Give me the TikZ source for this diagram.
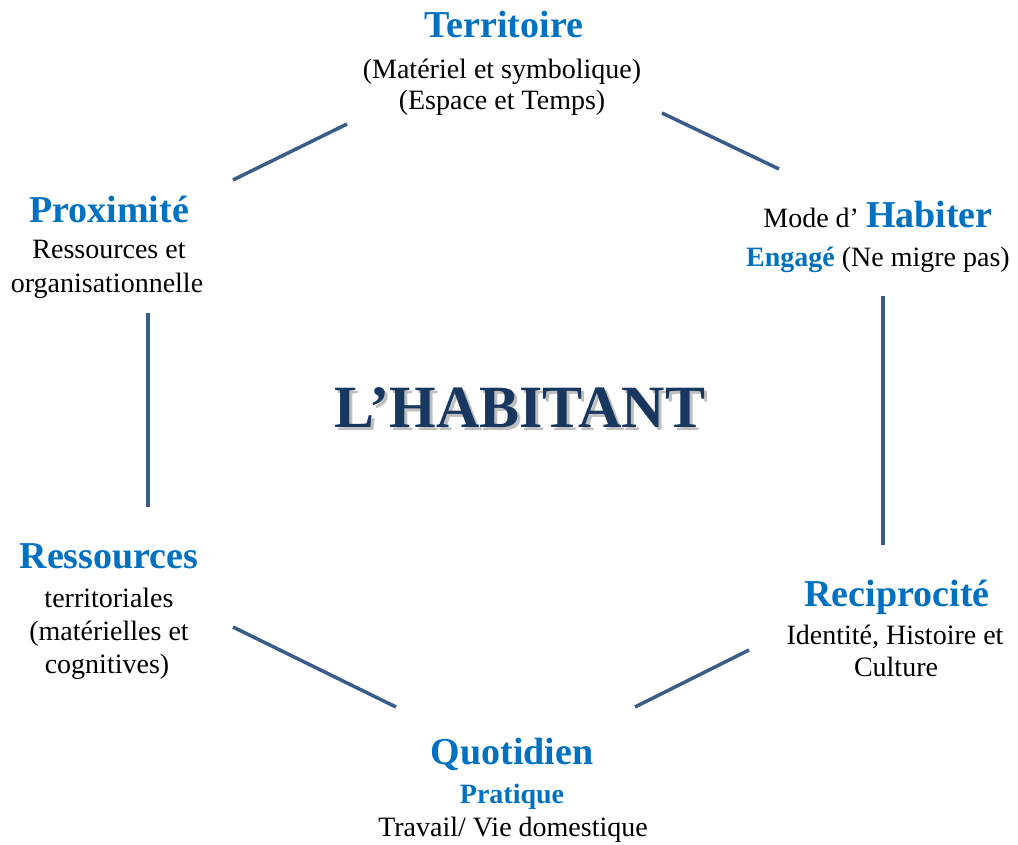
\documentclass[tikz,border=0pt]{standalone}
\usepackage{fontspec}
\setmainfont{Liberation Serif}
\usepackage{xcolor}
\definecolor{titleblue}{RGB}{0,112,192}
\definecolor{linkblue}{RGB}{56,93,138}
\definecolor{navy}{RGB}{23,55,94}

\begin{document}
\begin{tikzpicture}[x=1pt, y=-1pt,
    head/.style={font=\fontsize{38}{40}\selectfont\bfseries, text=titleblue, anchor=base, inner sep=0},
    subhead/.style={font=\fontsize{28}{32}\selectfont\bfseries, text=titleblue, anchor=base, inner sep=0},
    body/.style={font=\fontsize{28}{32}\selectfont, anchor=base, inner sep=0},
    link/.style={linkblue, line width=3.5pt}]

    % Canvas
    \fill[white] (0,0) rectangle (1018,844);
    \useasboundingbox (0,0) rectangle (1018,844);

    % Centre title with shadow
    \node[font=\fontsize{60}{64}\selectfont\bfseries, text=black!25, anchor=base, inner sep=0] (shadow) at (523,430) {L’HABITANT};
    \node[font=\fontsize{60}{64}\selectfont\bfseries, text=navy, anchor=base, inner sep=0] (habitant) at (520,427) {L’HABITANT};

    % Territoire
    \node[head] (terr) at (504,37) {Territoire};
    \node[body] (terr1) at (502,78) {(Matériel et symbolique)};
    \node[body] (terr2) at (502,109) {(Espace et Temps)};

    % Habiter
    \node[body] (hab) at (878,227) {Mode d’ {\fontsize{38}{40}\selectfont\bfseries\color{titleblue}Habiter}};
    \node[body] (hab1) at (878,266) {{\bfseries\color{titleblue}Engagé} (Ne migre pas)};

    % Proximite
    \node[head] (prox) at (109,222) {Proximité};
    \node[body] (prox1) at (109,258) {Ressources et};
    \node[body] (prox2) at (107,292) {organisationnelle};

    % Ressources
    \node[head] (ress) at (109,568) {Ressources};
    \node[body] (ress1) at (109,607) {territoriales};
    \node[body] (ress2) at (109,640) {(matérielles et};
    \node[body] (ress3) at (107,673) {cognitives)};

    % Reciprocite
    \node[head] (reci) at (897,606) {Reciprocité};
    \node[body] (reci1) at (895,644) {Identité, Histoire et};
    \node[body] (reci2) at (896,676) {Culture};

    % Quotidien
    \node[head] (quot) at (512,764) {Quotidien};
    \node[subhead] (quot1) at (512,803) {Pratique};
    \node[body] (quot2) at (513,836) {Travail/ Vie domestique};

    % Hexagon sides
    \coordinate (tl-a) at (233,180);
    \coordinate (tl-b) at (347,124);
    \coordinate (tr-a) at (662,113);
    \coordinate (tr-b) at (779,169);
    \coordinate (r-a) at (883,296);
    \coordinate (r-b) at (883,545);
    \coordinate (br-a) at (749,650);
    \coordinate (br-b) at (635,707);
    \coordinate (bl-a) at (233,627);
    \coordinate (bl-b) at (396,707);
    \coordinate (l-a) at (148,313);
    \coordinate (l-b) at (148,507);
    \draw[link] (tl-a) -- (tl-b);
    \draw[link] (tr-a) -- (tr-b);
    \draw[link] (r-a) -- (r-b);
    \draw[link] (br-a) -- (br-b);
    \draw[link] (bl-a) -- (bl-b);
    \draw[link] (l-a) -- (l-b);

\end{tikzpicture}
\end{document}
